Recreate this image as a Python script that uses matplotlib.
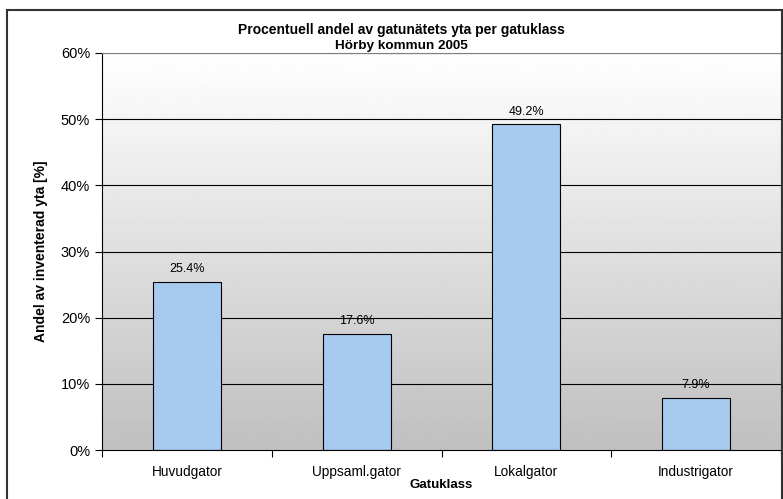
import numpy as np
import matplotlib.pyplot as plt
from matplotlib.patches import Rectangle
from matplotlib.ticker import FuncFormatter

# Data
categories = ['Huvudgator', 'Uppsaml.gator', 'Lokalgator', 'Industrigator']
values = [25.4, 17.6, 49.2, 7.9]
yticks = [0, 10, 20, 30, 40, 50, 60]

plt.rcParams['font.family'] = ['Liberation Sans', 'DejaVu Sans']

fig = plt.figure(figsize=(7.83, 4.99), dpi=100)
ax = fig.add_axes([102 / 783, 49 / 499, 679 / 783, 397 / 499])

x = np.arange(len(categories))
ax.set_xlim(-0.5, len(categories) - 0.5)
ax.set_ylim(0, 60)

# gradient background (white at top -> gray at bottom)
grad = np.linspace(0.75, 1.0, 256).reshape(-1, 1)
ax.imshow(grad, extent=[-0.5, len(categories) - 0.5, 0, 60], origin='lower',
          cmap='gray', vmin=0, vmax=1, aspect='auto', zorder=0)

for t in yticks[1:]:
    ax.axhline(t, color='black', linewidth=0.8, zorder=1)

bars = ax.bar(x, values, width=0.4, color='#A6CAF0', edgecolor='black',
              linewidth=0.8, zorder=2)
for xi, v in zip(x, values):
    ax.text(xi, v + 1.0, f'{v:.1f}%', ha='center', va='bottom', fontsize=9, zorder=3)

ax.set_yticks(yticks)
ax.yaxis.set_major_formatter(FuncFormatter(lambda v, p: f'{int(v)}%'))
ax.set_xticks(x)
ax.set_xticklabels(categories)
ax.set_xticks(np.arange(len(categories) + 1) - 0.5, minor=True)
ax.tick_params(axis='x', which='major', length=0, pad=10.5, labelsize=9.8)
ax.tick_params(axis='x', which='minor', length=5, direction='out', width=0.8)
ax.tick_params(axis='y', length=5, direction='out', width=0.8, labelsize=10.5)

for s in ['top', 'right']:
    ax.spines[s].set_color('#808080')
for s in ['left', 'bottom']:
    ax.spines[s].set_color('black')
for s in ax.spines.values():
    s.set_linewidth(0.8)

ax.set_ylabel('Andel av inventerad yta [%]', fontsize=10, fontweight='bold', labelpad=9)
ax.set_xlabel('Gatuklass', fontsize=9.5, fontweight='bold', labelpad=0)

fig.text(401 / 783, 1 - 30 / 499, 'Procentuell andel av gatunätets yta per gatuklass',
         ha='center', va='center', fontsize=10, fontweight='bold')
fig.text(401 / 783, 1 - 46 / 499, 'Hörby kommun 2005',
         ha='center', va='center', fontsize=9.7, fontweight='bold')

# outer chart border (bottom and right edges run off the image)
fig.patches.append(Rectangle((7 / 783, -0.02), 0.99, 1 - 10 / 499 + 0.02,
                             transform=fig.transFigure, fill=False,
                             edgecolor='#333333', linewidth=1.5))

fig.savefig('out.png', dpi=100)
